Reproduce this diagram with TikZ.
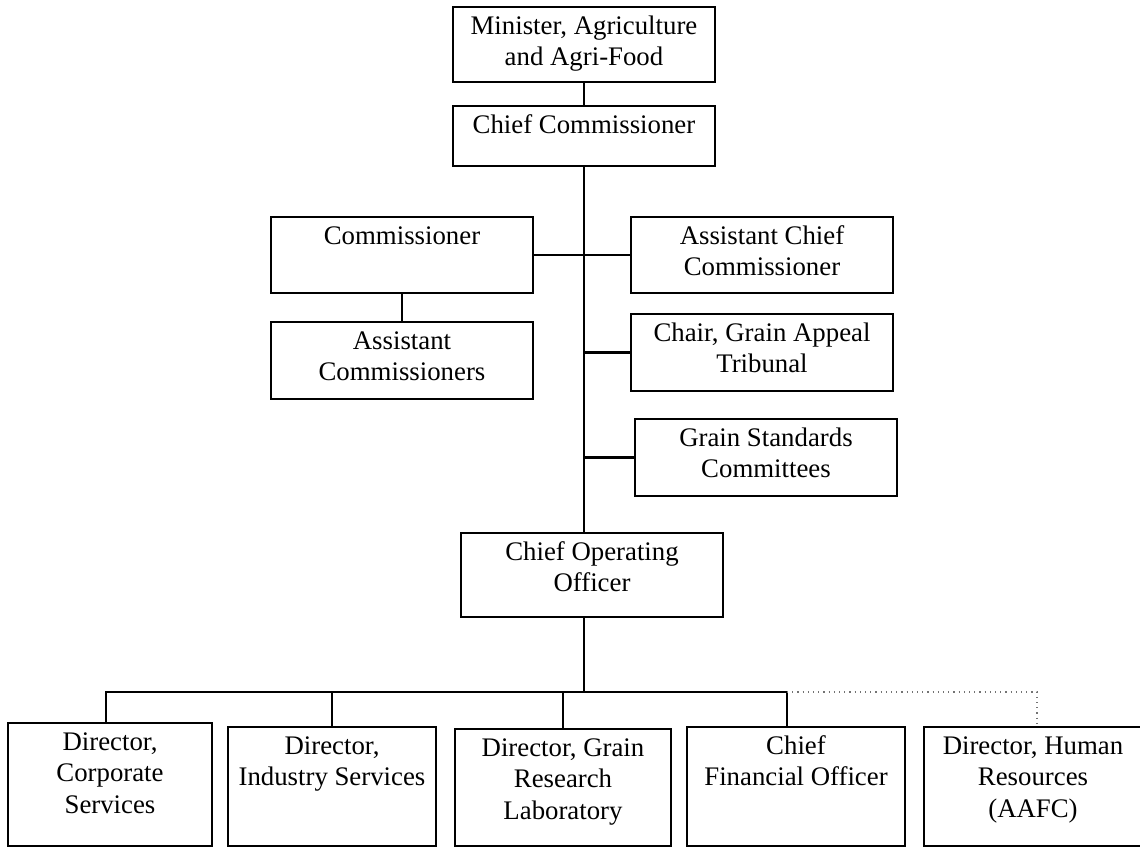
\documentclass[tikz,border=0pt]{standalone}
\usepackage{fontspec}
\setmainfont{Liberation Serif}
\begin{document}
\begin{tikzpicture}[x=0.5pt,y=-0.5pt,
  orgbox/.style={draw=black, line width=1pt, inner sep=0pt, outer sep=0pt,
    font=\fontsize{13.4}{15.6}\selectfont},
  link/.style={draw=black, line width=1.4pt},
  dotlink/.style={draw=black!55, line width=0.6pt, dotted}]
\useasboundingbox (0,0) rectangle (1140,846);
\newcommand\orgbox[6]{%
  \pgfmathsetmacro\bw{(#4-#2)*0.5}%
  \pgfmathsetmacro\bh{(#5-#3)*0.5}%
  \node[orgbox] (#1) at ({(#2+#4)/2},{(#3+#5)/2})
    {\parbox[c][\bh pt][t]{\bw pt}{\centering\rule{0pt}{13.8pt}#6}};}
\orgbox{min}{453}{7}{715}{82}{Minister, Agriculture\\and Agri-Food}
\orgbox{cc}{453}{106}{715}{166}{Chief Commissioner}
\orgbox{comm}{271}{217}{533}{293}{Commissioner}
\orgbox{acc}{631}{217}{893}{293}{Assistant Chief\\Commissioner}
\orgbox{ac}{271}{322}{533}{399}{Assistant\\Commissioners}
\orgbox{chair}{631}{314}{893}{391}{Chair, Grain Appeal\\Tribunal}
\orgbox{gsc}{635}{419}{897}{496}{Grain Standards\\Committees}
\orgbox{coo}{461}{533}{723}{617}{Chief Operating\\Officer}
\orgbox{d1}{8}{723}{212}{846}{Director,\\Corporate\\Services}
\orgbox{d2}{228}{727}{436}{846}{Director,\\Industry Services}
\orgbox{d3}{455}{729}{671}{846}{Director, Grain\\Research\\Laboratory}
\orgbox{d4}{687}{727}{905}{846}{Chief\\Financial Officer}
\orgbox{d5}{924}{727}{1142}{846}{Director, Human\\Resources\\(AAFC)}
\coordinate (busL) at (106,692);
\coordinate (busR) at (787,692);
\coordinate (busD) at (1037,692);
\draw[link] (min.south) -- (cc.north);
\draw[link] (cc.south) -- (cc.south |- coo.north);
\draw[link] (comm.east) -- (acc.west);
\draw[link] (comm.south) -- (ac.north);
\draw[link] (chair.west -| cc.south) -- (chair.west);
\draw[link] (gsc.west -| cc.south) -- (gsc.west);
\draw[link] (cc.south |- coo.south) -- (cc.south |- busL);
\draw[link] (busL |- d1.north) -- (busL) -- (busR) -- (busR |- d4.north);
\draw[link] (d2.north |- busL) -- (d2.north);
\draw[link] (d3.north |- busL) -- (d3.north);
\draw[dotlink] (busR) -- (busD) -- (busD |- d5.north);
\end{tikzpicture}
\end{document}
